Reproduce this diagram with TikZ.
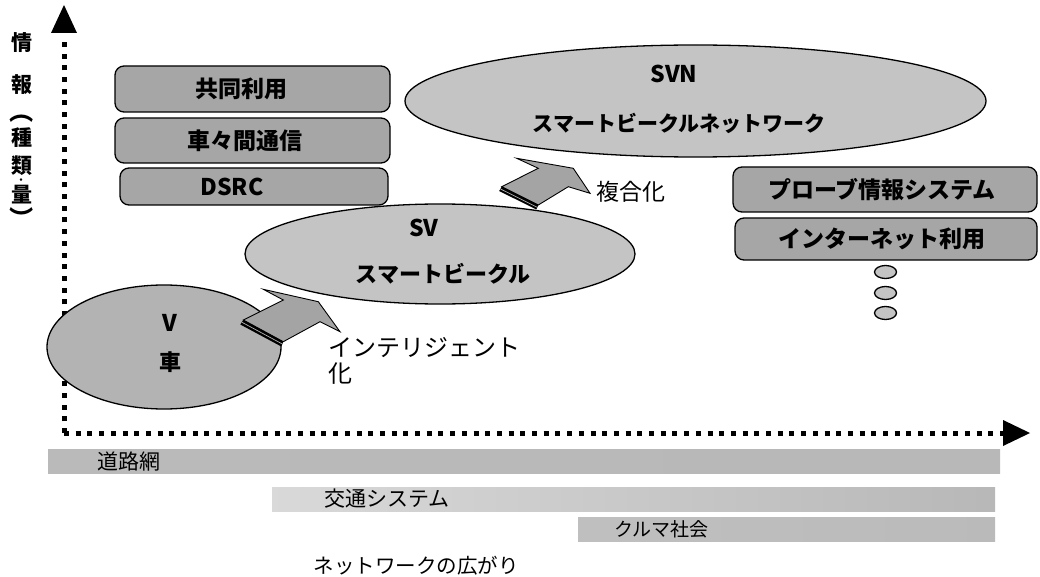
\documentclass[tikz,border=0pt]{standalone}
\usepackage{fontspec}
\setmainfont{Noto Sans CJK JP}
\usetikzlibrary{shapes.geometric}
\definecolor{boxgray}{HTML}{A6A6A6}
\definecolor{ellgray}{HTML}{C4C4C4}
\definecolor{arrgray}{HTML}{A4A4A4}
\tikzset{
  rbox/.style={draw=black, line width=1.3pt, fill=boxgray, rounded corners=9pt, inner sep=0pt},
  blab/.style={font=\fontsize{23}{23}\selectfont\bfseries, inner sep=0pt},
  ell/.style={ellipse, draw=black, line width=1.3pt, fill=ellgray, inner sep=0pt},
  elab/.style={font=\fontsize{21}{21}\selectfont\bfseries, inner sep=0pt},
  latlab/.style={font=\fontsize{23}{23}\selectfont\bfseries, inner sep=0pt},
  plab/.style={font=\fontsize{21}{21}\selectfont, inner sep=0pt},
  ylab/.style={font=\fontsize{21}{21}\selectfont\bfseries, inner sep=0pt},
  dotaxis/.style={line width=5pt, dash pattern=on 5pt off 6.7pt, line cap=butt},
  bar/.style={draw=none, inner sep=0pt},
  smalldot/.style={ellipse, draw=black, line width=1.3pt, fill=ellgray, minimum width=22pt, minimum height=13pt, inner sep=0pt},
  blockarrow/.style={fill=arrgray, draw=black, line width=0.9pt, line join=miter},
}
\begin{document}
\begin{tikzpicture}[x=1pt,y=-1pt]
\useasboundingbox (0,0) rectangle (1040,577);

% axes
\coordinate (O) at (64,433);
\coordinate (ytop) at (64,36);
\coordinate (xend) at (1003,433);
\draw[dotaxis] (O) -- (ytop);
\draw[dotaxis] (O) -- (xend);
\fill (51,33) -- (64,5) -- (77,33) -- cycle;
\fill (1003,420) -- (1030,433) -- (1003,446) -- cycle;

% y-axis label
\node[ylab] (y1) at (22,43) {情};
\node[ylab] (y2) at (22,85) {報};
\node[inner sep=0pt, rotate=-90, font=\fontsize{24}{24}\selectfont\bfseries] (y3) at (22,112) {（};
\node[ylab] (y4) at (22,138) {種};
\node[ylab] (y5) at (22,166) {類};
\node[font=\fontsize{9}{9}\selectfont\bfseries, inner sep=0pt] (y7) at (21,181) {・};
\node[ylab] (y6) at (22,195) {量};
\node[inner sep=0pt, rotate=-90, font=\fontsize{24}{24}\selectfont\bfseries] (y8) at (22,219) {）};

% left boxes
\node[rbox, minimum width=275pt, minimum height=46pt] (kyodo) at (252.5,89) {};
\node[blab] (kyodoL) at (241,89) {共同利用};
\node[rbox, minimum width=275pt, minimum height=45pt] (shasha) at (252.5,140.5) {};
\node[blab] (shashaL) at (245,140.5) {車々間通信};
\node[rbox, minimum width=268pt, minimum height=37pt] (dsrc) at (254,186.5) {};
\node[latlab] (dsrcL) at (232,186.5) {DSRC};

% right boxes
\node[rbox, minimum width=304pt, minimum height=45pt] (probe) at (885,189.5) {};
\node[blab] (probeL) at (882,189.5) {プローブ情報システム};
\node[rbox, minimum width=302pt, minimum height=42pt] (inet) at (886,239) {};
\node[blab] (inetL) at (882,239) {インターネット利用};
\node[smalldot] (d1) at (885.5,272) {};
\node[smalldot] (d2) at (885.5,293) {};
\node[smalldot] (d3) at (885.5,313) {};

% SVN ellipse
\node[ell, minimum width=581pt, minimum height=112pt] (svn) at (695.5,101) {};
\node[latlab] (svnA) at (674,74) {SVN};
\node[elab] (svnB) at (679,123) {スマートビークルネットワーク};

% SV ellipse
\node[ell, minimum width=390pt, minimum height=100pt] (sv) at (440,254) {};
\node[latlab] (svA) at (424,228) {SV};
\node[elab, font=\fontsize{22}{22}\selectfont\bfseries] (svB) at (443,274) {スマートビークル};

% V ellipse
\node[ell, fill=boxgray!85, minimum width=234pt, minimum height=124pt] (v) at (164,347) {};
\node[latlab] (vA) at (170,323) {V};
\node[elab, font=\fontsize{22}{22}\selectfont\bfseries] (vB) at (170,362) {車};

% block arrow 1 (intelligent)
\filldraw[blockarrow] (263.3,289.3) -- (318.3,301.7) -- (340,331.7) -- (320,321.7)
  -- (283.3,341.7) -- (243.3,320) -- (283.3,300) -- cycle;
\fill[black] (243.3,320) -- (283.3,341.7) -- (281.3,346.5) -- (240.3,324.5) -- cycle;
\draw[gray!60, line width=0.7pt] (242,322.3) -- (282.3,344);
\node[plab, font=\fontsize{24}{24}\selectfont, anchor=west] (intel1) at (328,348) {インテリジェント};
\node[plab, font=\fontsize{24}{24}\selectfont, anchor=west] (intel2) at (328,374) {化};

% block arrow 2 (composite)
\filldraw[blockarrow] (516.7,158.3) -- (573.3,168.3) -- (590,193.3) -- (568.3,186.7)
  -- (538.3,205) -- (501.7,186.7) -- (538.3,168.3) -- cycle;
\fill[black] (501.7,186.7) -- (538.3,205) -- (536.3,209.5) -- (499.2,191) -- cycle;
\draw[gray!60, line width=0.7pt] (500.5,189) -- (537.3,207.3);
\node[plab, font=\fontsize{23}{23}\selectfont, anchor=west] (fukugo) at (596,192) {複合化};

% bottom bars
\node[bar, minimum width=952pt, minimum height=24pt, left color=black!27, middle color=black!40, right color=black!28] (road) at (524,461) {};
\node[plab, anchor=west] (roadL) at (97,462) {道路網};
\node[bar, minimum width=723pt, minimum height=24pt, left color=black!15, middle color=black!25, right color=black!28] (traffic) at (633.5,499) {};
\node[plab, anchor=west] (trafficL) at (324,499) {交通システム};
\node[bar, minimum width=417pt, minimum height=24pt, left color=black!25, right color=black!27] (car) at (786.5,529) {};
\node[plab, font=\fontsize{19}{19}\selectfont, anchor=west] (carL) at (614,529) {クルマ社会};
\node[plab, font=\fontsize{20.5}{20.5}\selectfont] (net) at (416,566) {ネットワークの広がり};
\end{tikzpicture}
\end{document}
